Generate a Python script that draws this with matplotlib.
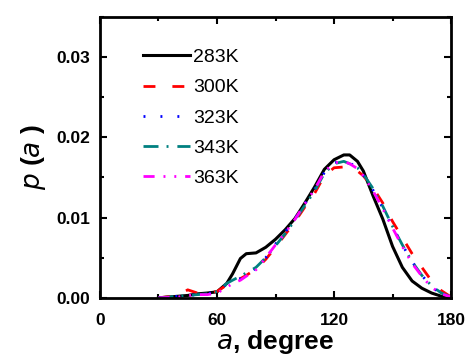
import matplotlib.pyplot as plt
from matplotlib.ticker import MultipleLocator

plt.rcParams['font.family'] = ['Liberation Sans', 'DejaVu Sans']

# angle grid (degree)
angle = [30, 40, 45, 50, 55, 60, 65, 68, 72, 75, 80, 85, 90, 95, 100, 105, 110,
         115, 120, 125, 128, 132, 135, 140, 145, 150, 155, 160, 165, 170, 175, 180]

p283 = [0.0, 0.0002, 0.0003, 0.0005, 0.0006, 0.00075, 0.0018, 0.003, 0.0049, 0.0055,
        0.0056, 0.0063, 0.0073, 0.0085, 0.0099, 0.0118, 0.0138, 0.0160, 0.0172,
        0.0178, 0.0178, 0.0170, 0.0158, 0.0127, 0.0098, 0.0064, 0.0038, 0.0021,
        0.0012, 0.0006, 0.0002, 0.0001]
p300 = [0.0, 0.0003, 0.0010, 0.0006, 0.0006, 0.0008, 0.0016, 0.0019, 0.0024, 0.0028,
        0.0036, 0.0048, 0.0063, 0.0079, 0.0095, 0.0113, 0.0130, 0.0152, 0.0162,
        0.0163, 0.0162, 0.0158, 0.0152, 0.0137, 0.0118, 0.0095, 0.0075, 0.0055,
        0.0038, 0.0021, 0.0009, 0.0001]
p323 = [0.0, 0.0002, 0.0003, 0.0004, 0.0005, 0.0008, 0.0017, 0.0020, 0.0024, 0.0029,
        0.0037, 0.0050, 0.0067, 0.0082, 0.0099, 0.0117, 0.0135, 0.0156, 0.0168,
        0.0171, 0.0168, 0.0162, 0.0153, 0.0134, 0.0112, 0.0088, 0.0066, 0.0045,
        0.0028, 0.0014, 0.0005, 0.0001]
p343 = [0.0, 0.0002, 0.0003, 0.0004, 0.0005, 0.0008, 0.0018, 0.0022, 0.0027, 0.0031,
        0.0038, 0.0050, 0.0065, 0.0080, 0.0097, 0.0115, 0.0133, 0.0155, 0.0167,
        0.0170, 0.0167, 0.0162, 0.0154, 0.0136, 0.0114, 0.0089, 0.0066, 0.0045,
        0.0028, 0.0015, 0.0006, 0.0001]
p363 = [0.0, 0.0001, 0.0003, 0.0004, 0.0004, 0.0006, 0.0013, 0.0018, 0.0022, 0.0027,
        0.0035, 0.0050, 0.0066, 0.0081, 0.0098, 0.0117, 0.0135, 0.0157, 0.0168,
        0.0170, 0.0167, 0.0161, 0.0152, 0.0133, 0.0111, 0.0087, 0.0064, 0.0043,
        0.0027, 0.0013, 0.0005, 0.0001]

labels = ['283K', '300K', '323K', '343K', '363K']
colors = ['black', '#ff0000', '#0000ff', '#008080', '#ff00ff']
styles = ['-', (0, (4.3, 6.1)), (0, (0.7, 5.4)), (0, (5.4, 2.9, 0.7, 3.2)),
          (0, (4, 3.2, 0.7, 3.2, 0.7, 3.2))]

fig = plt.figure(figsize=(4.67, 3.58), dpi=100)
ax = fig.add_axes([0.214, 0.168, 0.752, 0.785])

for ys, lab, c, ls in zip([p283, p300, p323, p343, p363], labels, colors, styles):
    lw = 2.2 if lab == '283K' else 2.0
    ax.plot(angle, ys, color=c, linestyle=ls, linewidth=lw, label=lab)

ax.set_xlim(0, 180)
ax.set_ylim(0, 0.035)
ax.xaxis.set_major_locator(MultipleLocator(60))
ax.xaxis.set_minor_locator(MultipleLocator(30))
ax.yaxis.set_minor_locator(MultipleLocator(0.005))
ax.set_yticks([0, 0.01, 0.02, 0.03])
ax.set_yticklabels(['0.00', '0.01', '0.02', '0.03'])

ax.tick_params(which='both', direction='in', top=True, right=True, width=1.5)
ax.tick_params(which='major', length=5, labelsize=12.5)
ax.tick_params(axis='x', which='major', pad=11)
ax.tick_params(axis='y', which='major', pad=7)
ax.tick_params(which='minor', length=3)
for lab in ax.get_xticklabels() + ax.get_yticklabels():
    lab.set_fontweight('bold')
for s in ax.spines.values():
    s.set_linewidth(2)

ax.set_xlabel(r'$\bf{\it{a}}$, degree', fontsize=19, fontweight='bold', labelpad=0)
ax.set_ylabel(r'$\bf{\it{p}}$ ($\bf{\it{a}}$ )', fontsize=19, fontweight='bold', labelpad=6)

ax.legend(loc='upper left', bbox_to_anchor=(0.1, 0.915), frameon=False, fontsize=14,
          handlelength=2.4, handletextpad=0.2, labelspacing=0.65, borderaxespad=0)

fig.savefig('out.png', dpi=100)
